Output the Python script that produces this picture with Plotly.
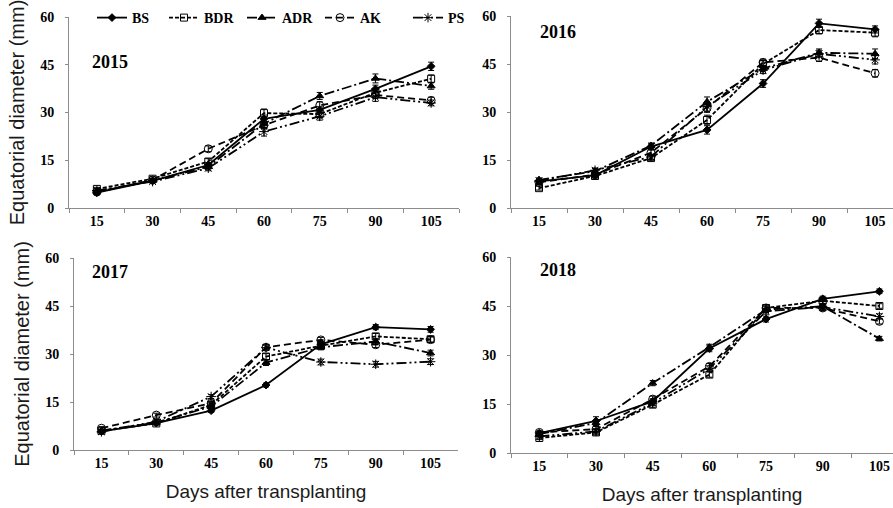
import plotly.graph_objects as go

# Sampling days (days after transplanting)
DAYS = ["15", "30", "45", "60", "75", "90", "105"]
SERIES = ["BS", "BDR", "ADR", "AK", "PS"]
YEARS = ["2015", "2016", "2017", "2018"]

# Equatorial diameter (mm), mean per treatment
BS_2015 = [4.8, 8.5, 13.5, 28.0, 30.8, 37.4, 44.5]
BDR_2015 = [6.0, 9.2, 14.6, 29.8, 29.5, 36.2, 40.6]
ADR_2015 = [5.2, 8.6, 13.0, 26.5, 35.2, 40.7, 38.3]
AK_2015 = [5.0, 8.8, 18.6, 26.0, 32.2, 35.5, 33.8]
PS_2015 = [5.5, 8.3, 12.5, 24.0, 28.8, 34.8, 33.0]

BS_2016 = [8.3, 10.2, 19.2, 24.4, 38.9, 57.7, 55.8]
BDR_2016 = [6.2, 10.0, 15.6, 27.5, 45.0, 55.6, 54.8]
ADR_2016 = [8.8, 11.5, 19.5, 33.2, 43.6, 48.5, 48.2]
AK_2016 = [8.0, 10.4, 17.3, 31.2, 45.5, 47.0, 42.1]
PS_2016 = [8.5, 11.8, 16.0, 31.7, 43.1, 48.2, 46.3]

BS_2017 = [5.8, 8.4, 12.3, 20.3, 33.0, 38.4, 37.7]
BDR_2017 = [6.0, 8.3, 14.1, 29.2, 32.6, 35.5, 34.6]
ADR_2017 = [6.1, 8.6, 13.6, 27.3, 32.1, 33.9, 30.3]
AK_2017 = [6.8, 10.9, 14.6, 32.1, 34.4, 32.9, 34.5]
PS_2017 = [5.7, 8.9, 16.7, 32.0, 27.5, 26.8, 27.6]

BS_2018 = [6.1, 9.8, 15.8, 32.0, 41.0, 47.2, 49.5]
BDR_2018 = [4.6, 6.3, 14.8, 24.0, 44.4, 46.6, 45.0]
ADR_2018 = [5.8, 9.2, 21.4, 32.4, 43.9, 44.9, 35.0]
AK_2018 = [6.3, 7.3, 16.5, 26.5, 44.4, 44.4, 40.3]
PS_2018 = [5.1, 6.6, 15.3, 25.8, 43.4, 44.7, 41.8]

# Standard errors (mm)
BS_2015_SE = [0.5, 0.5, 0.8, 1.2, 1.0, 1.2, 1.3]
BDR_2015_SE = [0.5, 0.6, 0.9, 1.3, 1.2, 1.0, 1.2]
ADR_2015_SE = [0.4, 0.5, 0.8, 1.2, 1.1, 1.4, 1.0]
AK_2015_SE = [0.5, 0.5, 0.9, 1.1, 1.2, 1.0, 1.0]
PS_2015_SE = [0.5, 0.5, 0.8, 1.4, 1.2, 1.3, 0.9]

BS_2016_SE = [0.6, 0.6, 0.8, 1.3, 1.2, 1.3, 1.1]
BDR_2016_SE = [0.6, 0.6, 0.7, 1.5, 1.0, 1.2, 1.3]
ADR_2016_SE = [0.6, 0.8, 0.8, 1.5, 1.0, 1.2, 1.5]
AK_2016_SE = [0.6, 0.6, 0.8, 1.3, 1.0, 1.2, 1.2]
PS_2016_SE = [0.6, 0.7, 0.8, 1.4, 1.1, 1.1, 1.3]

BS_2017_SE = [0.4, 0.5, 0.6, 0.6, 0.9, 0.8, 0.9]
BDR_2017_SE = [0.4, 0.5, 0.7, 0.9, 0.8, 0.9, 0.9]
ADR_2017_SE = [0.4, 0.5, 0.7, 0.9, 0.8, 0.9, 0.9]
AK_2017_SE = [0.5, 0.6, 0.7, 0.8, 0.8, 0.9, 0.8]
PS_2017_SE = [0.4, 0.5, 0.6, 0.8, 0.9, 0.9, 0.9]

BS_2018_SE = [0.5, 1.3, 0.8, 1.0, 0.9, 0.8, 0.7]
BDR_2018_SE = [0.5, 0.8, 0.8, 0.8, 0.9, 0.8, 0.7]
ADR_2018_SE = [0.5, 0.9, 0.8, 0.9, 0.9, 0.8, 0.7]
AK_2018_SE = [0.5, 0.8, 0.9, 0.9, 0.9, 0.8, 0.8]
PS_2018_SE = [0.5, 0.8, 0.8, 0.9, 0.9, 0.8, 0.8]

VALUES = {
    "2015": [BS_2015, BDR_2015, ADR_2015, AK_2015, PS_2015],
    "2016": [BS_2016, BDR_2016, ADR_2016, AK_2016, PS_2016],
    "2017": [BS_2017, BDR_2017, ADR_2017, AK_2017, PS_2017],
    "2018": [BS_2018, BDR_2018, ADR_2018, AK_2018, PS_2018],
}
ERRORS = {
    "2015": [BS_2015_SE, BDR_2015_SE, ADR_2015_SE, AK_2015_SE, PS_2015_SE],
    "2016": [BS_2016_SE, BDR_2016_SE, ADR_2016_SE, AK_2016_SE, PS_2016_SE],
    "2017": [BS_2017_SE, BDR_2017_SE, ADR_2017_SE, AK_2017_SE, PS_2017_SE],
    "2018": [BS_2018_SE, BDR_2018_SE, ADR_2018_SE, AK_2018_SE, PS_2018_SE],
}

# Line dash and marker for each treatment
STYLE = {
    "BS": dict(dash="solid", symbol="diamond", size=6),
    "BDR": dict(dash="4px,2px", symbol="square-open", size=7),
    "ADR": dict(dash="10px,3px,2px,3px", symbol="triangle-up", size=7),
    "AK": dict(dash="7px,4px", symbol="circle-open", size=8),
    "PS": dict(dash="10px,3px,2px,3px,2px,3px", symbol="asterisk-open", size=8),
}

W, H = 893, 508

# Left edge (px) of each treatment's legend entry along the top row
LEGEND_X = {"BS": 92, "BDR": 164, "ADR": 242, "AK": 320, "PS": 408}


def xdom(left, right):
    return [left / W, right / W]


def ydom(top, bottom):
    return [1 - bottom / H, 1 - top / H]


# Panel placement: (x domain, y domain, x range end)
PANELS = {
    "2015": (xdom(69, 459), ydom(17, 208), 6.5),
    "2016": (xdom(511, 893), ydom(16, 208), 6.32),
    "2017": (xdom(74, 458), ydom(258, 450), 6.5),
    "2018": (xdom(511, 893), ydom(257, 453), 6.24),
}

# Year label position inside each panel (fraction of the panel)
LABEL_POS = {
    "2015": (0.105, 0.764),
    "2016": (0.123, 0.917),
    "2017": (0.095, 0.927),
    "2018": (0.123, 0.934),
}

SERIF = "Liberation Serif"
SANS = "Liberation Sans"
AXIS_GREY = "#8c8c8c"

LEGEND_IDS = {name: ("legend" if k == 0 else f"legend{k + 1}")
              for k, name in enumerate(SERIES)}

fig = go.Figure()

for i, year in enumerate(YEARS):
    ax = "" if i == 0 else str(i + 1)
    for j, name in enumerate(SERIES):
        st = STYLE[name]
        fig.add_trace(go.Scatter(
            x=DAYS,
            y=VALUES[year][j],
            error_y=dict(type="data", array=ERRORS[year][j], visible=True,
                         color="black", thickness=1, width=3),
            mode="lines+markers",
            name=name,
            legend=LEGEND_IDS[name],
            legendgroup=name,
            showlegend=(i == 0),
            line=dict(color="black", width=1.8, dash=st["dash"]),
            marker=dict(symbol=st["symbol"], size=st["size"], color="black",
                        line=dict(color="black", width=1)),
            xaxis="x" + ax,
            yaxis="y" + ax,
        ))

layout = dict(
    width=W, height=H,
    margin=dict(l=0, r=0, t=0, b=0, autoexpand=False),
    paper_bgcolor="white",
    plot_bgcolor="white",
    showlegend=True,
)

for name in SERIES:
    layout[LEGEND_IDS[name]] = dict(
        orientation="h",
        x=LEGEND_X[name] / W, xanchor="left",
        y=1 - 2 / H, yanchor="top",
        font=dict(family=SERIF, size=14, color="black", weight="bold"),
        itemwidth=30,
        bgcolor="rgba(0,0,0,0)",
    )

annotations = []
for i, year in enumerate(YEARS):
    ax = "" if i == 0 else str(i + 1)
    xd, yd, xend = PANELS[year]
    xa = dict(
        domain=xd, anchor="y" + ax, type="category",
        range=[-0.5, xend],
        showline=True, linecolor=AXIS_GREY, linewidth=1,
        ticks="outside", tickson="boundaries", ticklen=4, tickcolor=AXIS_GREY,
        showgrid=False, zeroline=False,
        tickfont=dict(family=SERIF, size=14, color="black", weight="bold"),
    )
    ya = dict(
        domain=yd, anchor="x" + ax,
        range=[0, 60], tickvals=[0, 15, 30, 45, 60],
        showline=True, linecolor=AXIS_GREY, linewidth=1,
        ticks="outside", ticklen=3, tickcolor=AXIS_GREY,
        showgrid=False, zeroline=False,
        ticklabelstandoff=8,
        tickfont=dict(family=SERIF, size=14, color="black", weight="bold"),
    )
    if i in (0, 2):
        ya["title"] = dict(text="Equatorial diameter (mm)", standoff=10,
                           font=dict(family=SANS, size=20, color="#1a1a1a"))
    if i in (2, 3):
        xa["title"] = dict(text="Days after transplanting", standoff=14,
                           font=dict(family=SANS, size=19, color="#1a1a1a"))
    layout["xaxis" + ax] = xa
    layout["yaxis" + ax] = ya

    xl, yl = LABEL_POS[year]
    annotations.append(dict(
        text=year, showarrow=False,
        xref=("x" + ax) + " domain", yref=("y" + ax) + " domain",
        x=xl, y=yl, xanchor="center", yanchor="middle",
        font=dict(family=SERIF, size=18, color="black", weight="bold"),
    ))

layout["annotations"] = annotations
fig.update_layout(**layout)

fig.write_html("out.html")
